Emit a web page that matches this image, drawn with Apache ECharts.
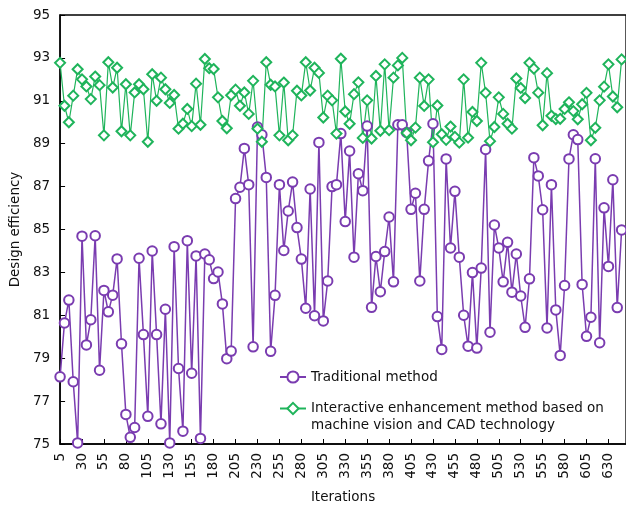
<!DOCTYPE html>
<html>
<head>
<meta charset="utf-8">
<script src="https://cdn.jsdelivr.net/npm/echarts@6/dist/echarts.min.js"></script>
<style>
html,body{margin:0;padding:0;background:#fff;}
#chart{width:626px;height:509px;}
</style>
</head>
<body>
<div id="chart"></div>
<script>
const iterations = [5,10,15,20,25,30,35,40,45,50,55,60,65,70,75,80,85,90,95,100,
105,110,115,120,125,130,135,140,145,150,155,160,165,170,175,180,185,190,195,200,
205,210,215,220,225,230,235,240,245,250,255,260,265,270,275,280,285,290,295,300,
305,310,315,320,325,330,335,340,345,350,355,360,365,370,375,380,385,390,395,400,
405,410,415,420,425,430,435,440,445,450,455,460,465,470,475,480,485,490,495,500,
505,510,515,520,525,530,535,540,545,550,555,560,565,570,575,580,585,590,595,600,
605,610,615,620,625,630,635,640,645];

const traditional = [78.13,80.64,81.71,77.9,75.05,84.69,79.62,80.79,84.71,78.44,
82.16,81.16,81.94,83.63,79.67,76.38,75.31,75.77,83.66,80.1,
76.29,84.0,80.1,75.94,81.28,75.05,84.2,78.52,75.6,84.48,
78.3,83.77,75.26,83.86,83.59,82.71,83.02,81.53,78.98,79.33,
86.44,86.97,88.78,87.09,79.53,89.78,89.42,87.43,79.32,81.93,
87.09,84.02,85.86,87.21,85.09,83.62,81.33,86.89,80.98,89.06,
80.74,82.6,87.0,87.09,89.47,85.37,88.66,83.71,87.6,86.81,
89.82,81.37,83.74,82.1,83.97,85.58,82.56,89.88,89.88,89.52,
85.94,86.69,82.6,85.94,88.2,89.93,80.94,79.41,88.29,84.14,
86.78,83.71,81.0,79.56,82.99,79.47,83.2,88.73,80.21,85.21,
84.14,82.56,84.4,82.08,83.86,81.9,80.44,82.7,88.35,87.5,
85.92,80.41,87.09,81.25,79.13,82.39,88.29,89.42,89.19,82.44,
80.02,80.91,88.3,79.72,86.01,83.28,87.32,81.36,84.98];

const interactive = [92.77,90.77,90.0,91.24,92.47,92.0,91.67,91.08,92.13,91.73,
89.39,92.8,91.62,92.54,89.58,91.77,89.39,91.39,91.77,91.54,
89.09,92.24,91.0,92.08,91.54,90.9,91.27,89.7,89.93,90.62,
89.82,91.8,89.88,92.95,92.52,92.48,91.16,90.06,89.72,91.26,
91.52,90.77,91.39,90.39,91.93,89.7,89.09,92.8,91.75,91.67,
89.39,91.85,89.16,89.39,91.47,91.25,92.8,91.48,92.54,92.3,
90.22,91.24,91.02,89.47,92.96,90.5,89.93,91.31,91.86,89.27,
91.02,89.24,92.16,89.6,92.7,89.63,92.08,92.65,93.0,89.5,
89.16,89.75,92.08,90.76,92.0,89.07,90.78,89.44,89.18,89.8,
89.32,89.05,92.0,89.28,90.48,90.06,92.77,91.37,89.12,89.78,
91.16,90.39,89.93,89.7,92.04,91.6,91.13,92.77,92.5,91.38,
89.86,92.29,90.3,90.15,90.16,90.62,90.93,90.52,90.14,90.84,
91.37,89.16,89.74,91.02,91.66,92.7,91.2,90.7,92.93];

const seriesNames = ['Traditional method', 'Interactive enhancement method based on machine vision and CAD technology'];
const legendLines = ['Traditional method', '\nInteractive enhancement method based on\nmachine vision and CAD technology'];
const xAxisTitle = 'Iterations';
const yAxisTitle = 'Design efficiency';

const PURPLE = '#7a3cb0';
const GREEN = '#1fb45b';
const FONT = 'DejaVu Sans';

const chart = echarts.init(document.getElementById('chart'), null, {renderer: 'canvas'});
chart.setOption({
  animation: false,
  backgroundColor: '#fff',
  textStyle: {fontFamily: FONT},
  grid: {left: 59, top: 15, right: -4, bottom: 60, show: true, borderColor: '#000', borderWidth: 1.3, backgroundColor: 'transparent'},
  xAxis: {
    type: 'value', min: 5, max: 650, interval: 25,
    name: xAxisTitle, nameLocation: 'middle', nameGap: 46,
    nameTextStyle: {fontFamily: FONT, fontSize: 13.5, color: '#111'},
    axisLine: {show: true, lineStyle: {color: '#000', width: 1.5}},
    axisTick: {show: true, inside: true, length: 5, lineStyle: {color: '#000', width: 1}},
    axisLabel: {rotate: 90, margin: 9, fontFamily: FONT, fontSize: 13.5, color: '#111', showMaxLabel: false},
    splitLine: {show: false}
  },
  yAxis: {
    type: 'value', min: 75, max: 95, interval: 2,
    name: yAxisTitle, nameLocation: 'middle', nameGap: 32, nameRotate: 90,
    nameTextStyle: {fontFamily: FONT, fontSize: 13.5, color: '#111'},
    axisLine: {show: true, lineStyle: {color: '#000', width: 1.5}},
    axisTick: {show: true, inside: true, length: 5, lineStyle: {color: '#000', width: 1}},
    axisLabel: {margin: 10, fontFamily: FONT, fontSize: 13.5, color: '#111'},
    splitLine: {show: false}
  },
  legend: [
    {
      data: [seriesNames[0]], left: 274, top: 365, orient: 'vertical',
      itemWidth: 26, itemHeight: 14, itemGap: 5,
      formatter: () => legendLines[0],
      textStyle: {fontFamily: FONT, fontSize: 13.5, color: '#111'}
    },
    {
      data: [seriesNames[1]], left: 274, top: 378, orient: 'vertical',
      itemWidth: 26, itemHeight: 14, itemGap: 5,
      formatter: () => legendLines[1],
      textStyle: {fontFamily: FONT, fontSize: 13.5, color: '#111', lineHeight: 17}
    }
  ],
  series: [
    {
      name: seriesNames[0], type: 'line', clip: false,
      data: iterations.map((x, i) => [x, traditional[i]]),
      symbol: 'emptyCircle', symbolSize: 9.5,
      lineStyle: {color: PURPLE, width: 1.5},
      itemStyle: {color: PURPLE, borderColor: PURPLE, borderWidth: 1.6}
    },
    {
      name: seriesNames[1], type: 'line', clip: false,
      data: iterations.map((x, i) => [x, interactive[i]]),
      symbol: 'emptyDiamond', symbolSize: 10,
      lineStyle: {color: GREEN, width: 1.2},
      itemStyle: {color: GREEN, borderColor: GREEN, borderWidth: 1.4}
    }
  ]
});
</script>
</body>
</html>
